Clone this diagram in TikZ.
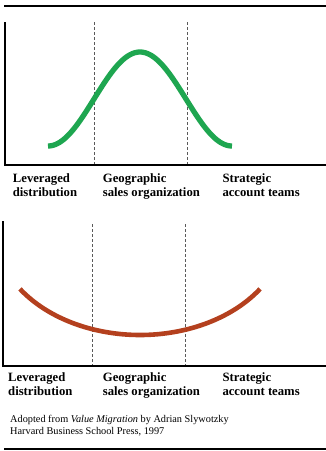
\documentclass[tikz,border=0pt]{standalone}
\usepackage{fontspec}
\setmainfont{Liberation Serif}
\definecolor{bellgreen}{RGB}{30,166,80}
\definecolor{smilered}{RGB}{180,64,30}
\begin{document}
\begin{tikzpicture}[x=1pt,y=-1pt,
  axis/.style={line width=2.6pt},
  rule/.style={line width=2.4pt},
  divider/.style={line width=0.9pt, dash pattern=on 3pt off 2pt, black!65},
  curve/.style={line width=5.3pt, samples=120},
  lbl/.style={font=\fontsize{12.7}{14}\selectfont\bfseries, anchor=base west, inner sep=0pt},
  note/.style={font=\fontsize{10.3}{12}\selectfont, anchor=base west, inner sep=0pt}]
\useasboundingbox (0,0) rectangle (325,451);
% top rule
\draw[rule] (4,6) -- (326,6);
% ---- top chart ----
\draw[axis] (5,22) -- (5,165) -- (326,165);
\draw[divider] (94,22) -- (94,164);
\draw[divider] (187,22) -- (187,164);
\draw[curve, bellgreen] plot[domain=48:232] (\x, {146 - 47*(1+cos(1.95652*(\x-140)))});
\node[lbl] (l1a) at (12.7,182) {Leveraged};
\node[lbl] (l1b) at (12.7,196) {distribution};
\node[lbl] (g1a) at (102.7,182) {Geographic};
\node[lbl] (g1b) at (102.7,196) {sales organization};
\node[lbl] (s1a) at (222.3,182) {Strategic};
\node[lbl] (s1b) at (222.3,196) {account teams};
% ---- bottom chart ----
\draw[axis] (3,221) -- (3,366) -- (326,366);
\draw[divider] (92.7,224) -- (92.7,365);
\draw[divider] (185.7,224) -- (185.7,365);
\draw[curve, smilered, line width=4.6pt] plot[domain=34.1:145.9] ({140+145*cos(\x)}, {230+105*sin(\x)});
\node[lbl] (l2a) at (8,381.5) {Leveraged};
\node[lbl] (l2b) at (8,395.5) {distribution};
\node[lbl] (g2a) at (102.7,381.5) {Geographic};
\node[lbl] (g2b) at (102.7,395.5) {sales organization};
\node[lbl] (s2a) at (222.3,381.5) {Strategic};
\node[lbl] (s2b) at (222.3,395.5) {account teams};
% footnote
\node[note] (n1) at (10,422.5) {Adopted from \textit{Value Migration} by Adrian Slywotzky};
\node[note] (n2) at (10,434) {Harvard Business School Press, 1997};
% bottom rule
\draw[rule, line width=2pt] (4,449.3) -- (326,449.3);
\end{tikzpicture}
\end{document}
